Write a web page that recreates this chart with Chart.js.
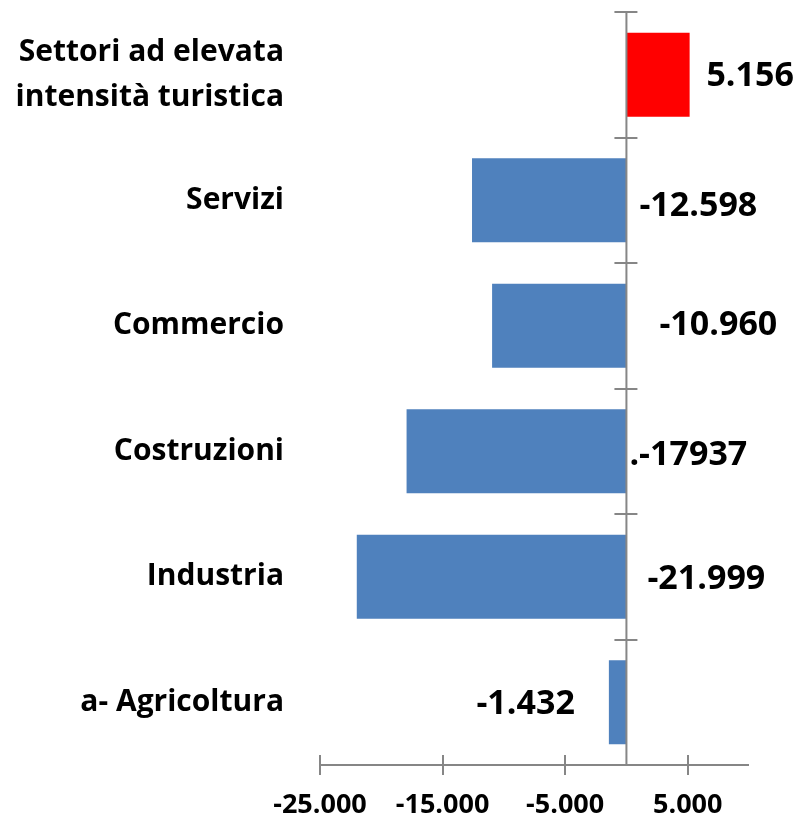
<!DOCTYPE html>
<html lang="it">
<head>
    <meta charset="UTF-8">
    <title>Settori</title>
    <script src="https://cdn.jsdelivr.net/npm/chart.js"></script>
    <style>
        body {
            margin: 0;
            background: #ffffff;
        }
        #wrap {
            width: 794px;
            height: 819px;
        }
    </style>
</head>
<body>
    <div id="wrap"><canvas id="chart"></canvas></div>

    <script>
        // data
        const categories = [
            ['Settori ad elevata', 'intensità turistica'],
            'Servizi',
            'Commercio',
            'Costruzioni',
            'Industria',
            'a- Agricoltura'
        ];
        const values = [5156, -12598, -10960, -17937, -21999, -1432];
        const valueLabels = ['5.156', '-12.598', '-10.960', '.-17937', '-21.999', '-1.432'];
        const barColors = ['#FF0000', '#4F81BD', '#4F81BD', '#4F81BD', '#4F81BD', '#4F81BD'];
        const xTicks = [-25000, -15000, -5000, 5000];
        const xTickLabels = ['-25.000', '-15.000', '-5.000', '5.000'];

        // where each value label sits, measured from the zero line / bar centre
        const labelOffsets = [[80, 2], [13, 6], [33, 0], [3, 4], [21, 3], [-150, 2]];

        const axisColor = '#868686';
        const fontFamily = '"Open Sans", Lato, sans-serif';

        // zero axis, x axis and the crossing tick marks like in the original
        const axesPlugin = {
            id: 'axesPlugin',
            afterDatasetsDraw(chart) {
                const ctx = chart.ctx;
                const area = chart.chartArea;
                const xs = chart.scales.x;
                const zero = xs.getPixelForValue(0);
                const n = categories.length;
                const step = (area.bottom - area.top) / n;

                ctx.save();
                ctx.strokeStyle = axisColor;
                ctx.lineWidth = 2;
                ctx.beginPath();
                ctx.moveTo(zero, area.top);
                ctx.lineTo(zero, area.bottom);
                for (let i = 0; i <= n; i++) {
                    const y = Math.round(area.top + i * step);
                    ctx.moveTo(zero - 12, y);
                    ctx.lineTo(zero + 11, y);
                }
                ctx.moveTo(area.left, area.bottom);
                ctx.lineTo(area.right, area.bottom);
                xTicks.forEach(v => {
                    const x = Math.round(xs.getPixelForValue(v));
                    ctx.moveTo(x, area.bottom - 10);
                    ctx.lineTo(x, area.bottom + 10);
                });
                ctx.stroke();

                // value labels
                const meta = chart.getDatasetMeta(0);
                ctx.fillStyle = '#000000';
                ctx.font = 'bold 34px ' + fontFamily;
                ctx.textAlign = 'left';
                ctx.textBaseline = 'middle';
                meta.data.forEach((bar, i) => {
                    const off = labelOffsets[i];
                    ctx.fillText(valueLabels[i], zero + off[0], bar.y + off[1]);
                });
                ctx.restore();
            }
        };

        const ctx = document.getElementById('chart').getContext('2d');
        new Chart(ctx, {
            type: 'bar',
            data: {
                labels: categories,
                datasets: [{
                    data: values,
                    backgroundColor: barColors,
                    borderWidth: 0,
                    barPercentage: 0.67,
                    categoryPercentage: 1
                }]
            },
            options: {
                indexAxis: 'y',
                responsive: true,
                maintainAspectRatio: false,
                animation: false,
                layout: {
                    padding: { top: 12, right: 45, bottom: 0, left: 0 }
                },
                plugins: {
                    legend: { display: false },
                    tooltip: { enabled: false }
                },
                scales: {
                    x: {
                        min: -25000,
                        max: 10000,
                        afterBuildTicks: scale => {
                            scale.ticks = xTicks.map(v => ({ value: v }));
                        },
                        afterFit: scale => {
                            scale.height = 54;
                            scale.paddingLeft = 0;
                            scale.paddingRight = 0;
                        },
                        grid: { display: false, drawTicks: false },
                        border: { display: false },
                        ticks: {
                            autoSkip: false,
                            maxRotation: 0,
                            padding: 24,
                            color: '#000000',
                            font: { family: fontFamily, size: 27, weight: 'bold' },
                            callback: (value) => xTickLabels[xTicks.indexOf(value)]
                        }
                    },
                    y: {
                        afterFit: scale => {
                            scale.width = 320;
                            scale.paddingTop = 0;
                            scale.paddingBottom = 0;
                        },
                        grid: { display: false, drawTicks: false },
                        border: { display: false },
                        ticks: {
                            padding: 36,
                            color: '#000000',
                            font: { family: fontFamily, size: 30, weight: 'bold', lineHeight: 1.5 }
                        }
                    }
                }
            },
            plugins: [axesPlugin]
        });
    </script>
</body>
</html>
